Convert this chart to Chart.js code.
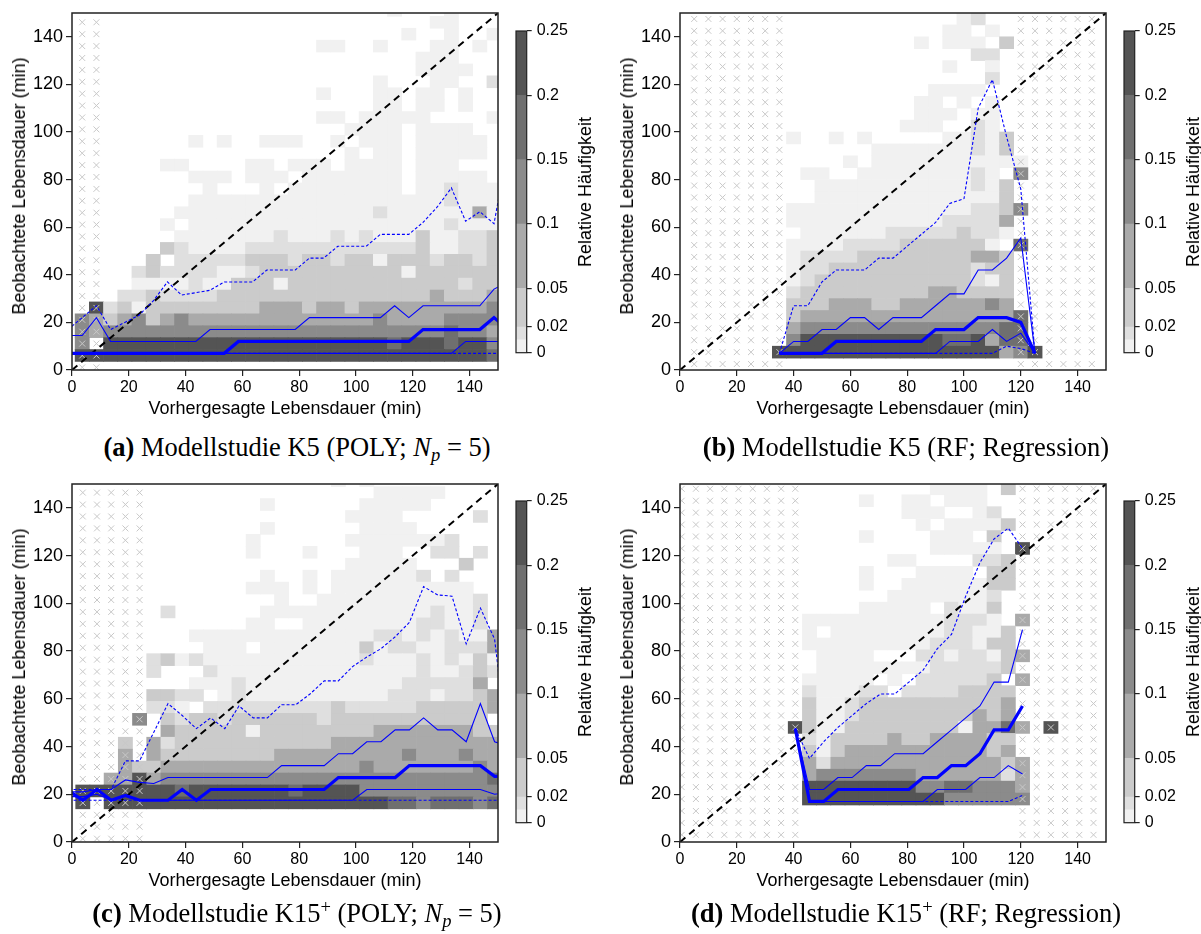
<!DOCTYPE html>
<html lang="de">
<head>
<meta charset="utf-8">
<title>Vorhergesagte vs. beobachtete Lebensdauer</title>
<script src="https://cdn.jsdelivr.net/npm/chart.js@4.4.1/dist/chart.umd.min.js"></script>
<style>
  html, body { margin: 0; padding: 0; background: #fff; }
  #page { position: relative; width: 1201px; height: 934px; overflow: hidden;
          font-family: 'Liberation Sans', Arial, Helvetica, sans-serif; color: #000; }
  #page canvas { position: absolute; }
  .vtitle { position: absolute; white-space: nowrap; font-size: 18px; line-height: 1;
            transform: translate(-50%, -50%) rotate(-90deg); }
  .caption { position: absolute; white-space: nowrap; transform: translateX(-50%);
             font-family: 'Liberation Serif', 'Times New Roman', serif; font-size: 26.5px; line-height: 30px; }
  .caption sub { font-size: 70%; line-height: 0; vertical-align: -0.28em; }
  .caption sup { font-size: 70%; line-height: 0; vertical-align: 0.5em; }
</style>
</head>
<body>
<div id="page"></div>
<script>
// ---------------------------------------------------------------------------
// Shared settings: 5-minute bins, frequency classes of the grey scale
// ---------------------------------------------------------------------------
const BIN = 5;
const FREQ_BREAKS = [0, 0.01, 0.02, 0.05, 0.1, 0.15, 0.2, 0.25];
const FREQ_GREYS  = ['#f1f1f1', '#dfdfdf', '#cbcbcb', '#aaaaaa', '#8b8b8b', '#6f6f6f', '#545454'];
// symbol in the grid strings -> relative frequency (class midpoint), '.' = no data
const LEVEL_FREQ = { '1': 0.005, '2': 0.015, '3': 0.035, '4': 0.075, '5': 0.125, '6': 0.175, '7': 0.225 };
const AXIS_TICKS = [0, 20, 40, 60, 80, 100, 120, 140];
const CBAR_TICKS = [0, 0.02, 0.05, 0.1, 0.15, 0.2, 0.25];
const DIAGONAL   = [0, 150];

// ---------------------------------------------------------------------------
// (a) K5, POLY, Np = 5
// ---------------------------------------------------------------------------
const colsA = [3.6, 8.6, 13.6, 18.6, 23.6, 28.6, 33.6, 38.6, 43.6, 48.6, 53.6, 58.6, 63.6, 68.6, 73.6,
               78.6, 83.6, 88.6, 93.6, 98.6, 103.6, 108.6, 113.6, 118.6, 123.6, 128.6, 133.6, 138.6, 143.6, 148.6];
const rowsA = [1.1, 6.1, 11.1, 16.1, 21.1, 26.1, 31.1, 36.1, 41.1, 46.1, 51.1, 56.1, 61.1, 66.1, 71.1, 76.1,
               81.1, 86.1, 91.1, 96.1, 101.1, 106.1, 111.1, 116.1, 121.1, 126.1, 131.1, 136.1, 141.1, 146.1, 151.1];
const crossA = [3.6, 8.6];
// rows from top (151.1) to bottom (1.1); five columns per block
const gridA = [
  "..... ..... ..... ..... ..1.. .1...",
  "..... ..... ..... ..... ..... 11...",
  "..... ..... ..... ..... ...1. .1..1",
  "..... ..... ..... ..11. .1... 11.1.",
  "..... ..... ..... ..... ....1 11...",
  "..... ..... ..... ..... ....1 111..",
  "..... ..... ..... ..... .1... 11..2",
  "..... ..... ..... ..1.. .11.1 1.1..",
  "..... ..... ..... ..... .11.1 1.1..",
  "..... ..... ..... ..11. 11111 ....1",
  "..... ..... ..... ....1 111.1 111..",
  "..... ...1. 1..11 1..1. 111.1 1111.",
  "..... ..... ..... ....1 .11.1 1111.",
  "..... .11.. ..11. 111.1 111.1 11...",
  "..... ...11 1.111 .1111 111.1 1111.",
  "..... ....1 ...1. 11111 111.1 12111",
  "..... ...11 11111 11111 11111 12111",
  "..... ..111 11111 11111 12111 11141",
  "..... .1.11 11111 11111 11111 12111",
  "..... ..111 11112 11121 21113 11223",
  "..... .3211 11222 22222 22223 11223",
  "..... 3.222 22333 23323 31333 23323",
  "....2 32222 11233 33333 33313 33333",
  "....1 11121 13331 33333 33333 33233",
  "...22 32222 33333 33333 33333 43334",
  ".7231 33333 33344 43443 44444 44445",
  "54345 34544 44444 44444 45444 45555",
  "54555 55555 55555 55555 55555 56554",
  "5.777 77777 77777 77777 77677 76775",
  "77777 77777 77777 77777 77777 77776",
  "..... ..... ..... ..... ..... ....."
];
const lineXA  = [-1.4, 3.6, 8.6, 13.6, 18.6, 23.6, 28.6, 33.6, 38.6, 43.6, 48.6, 53.6, 58.6, 63.6, 68.6, 73.6,
                 78.6, 83.6, 88.6, 93.6, 98.6, 103.6, 108.6, 113.6, 118.6, 123.6, 128.6, 133.6, 138.6, 143.6, 148.6, 153.6];
const medianA = [7, 7, 7, 7, 7, 7, 7, 7, 7, 7, 7, 7, 12, 12, 12, 12, 12, 12, 12, 12, 12, 12, 12, 12, 12, 17, 17, 17, 17, 17, 22, 17];
const q1A     = [7, 7, 7, 7, 7, 7, 7, 7, 7, 7, 7, 7, 7, 7, 7, 7, 7, 7, 7, 7, 7, 7, 7, 7, 7, 7, 7, 7, 12, 12, 12, 12];
const q3A     = [14.5, 14.5, 22, 12, 12, 12, 12, 12, 12, 12, 17, 17, 17, 17, 17, 17, 17, 22, 22, 22, 22, 22, 22, 27, 22, 27, 27, 27, 27, 27, 34, 37];
const p10A    = [7, 7, 7, 7, 7, 7, 7, 7, 7, 7, 7, 7, 7, 7, 7, 7, 7, 7, 7, 7, 7, 7, 7, 7, 7, 7, 7, 7, 7, 7, 7, 7];
const p90A    = [17, 22, 27, 17, 20, 23, 29, 37, 31.5, 32.5, 33.5, 37, 37, 37, 42, 42, 42, 47, 47, 52, 52, 52, 57, 57, 57, 62, 68.5, 76.5, 62.5, 66.5, 61.5, 94];

// ---------------------------------------------------------------------------
// (b) K5, RF, Regression
// ---------------------------------------------------------------------------
const colsB = [0, 5, 10, 15, 20, 25, 30, 35, 40, 45, 50, 55, 60, 65, 70, 75, 80, 85, 90, 95, 100, 105, 110, 115, 120, 125, 130, 135, 140, 145];
const rowsB = [2.5, 7.5, 12.5, 17.5, 22.5, 27.5, 32.5, 37.5, 42.5, 47.5, 52.5, 57.5, 62.5, 67.5, 72.5,
               77.5, 82.5, 87.5, 92.5, 97.5, 102.5, 107.5, 112.5, 117.5, 122.5, 127.5, 132.5, 137.5, 142.5, 147.5];
const crossB = [5, 10, 15, 20, 25, 30, 35, 120, 125, 130, 135, 140, 145];
const gridB = [
  "..... ..... ..... ..... 12... .....",
  "..... ..... ..... ....1 1.1.. .....",
  "..... ..... ..... ..1.1 11.3. .....",
  "..... ..... ..... ..... .22.. .....",
  "..... ..... ..... ....1 ..1.. .....",
  "..... ..... ..... ..... ..2.. .....",
  "..... ..... ..... ...11 11... .....",
  "..... ..... ..... ..11. 1.1.. .....",
  "..... ..... ..... ..111 .11.. .....",
  "..... ..... ..... .111. .21.. .....",
  "..... ...1. .1.1. ....1 1213. .....",
  "..... ..... ....1 11111 1213. .....",
  "..... ..... ..1.1 11111 11111 .....",
  "..... ....1 1..11 11111 121.5 .....",
  "..... ..... 11111 11111 1213. .....",
  "..... ..... 11111 11111 1113. .....",
  "..... ...11 11111 11111 12235 .....",
  "..... ...11 11111 11112 2224. .....",
  "..... ....1 11111 22222 3221. .....",
  "..... ...11 11222 23333 331.6 .....",
  "..... ...12 22233 33333 3443. .....",
  "..... ...12 23333 33333 3233. .....",
  "..... ...12 33333 33333 3213. .....",
  "..... ...23 33333 33344 3333. .....",
  "..... ...33 34443 34444 4454. .....",
  "..... ...34 44444 44444 44446 .....",
  "..... ...45 55555 55555 55566 .....",
  "..... ...57 77777 77776 67466 .....",
  "..... ..777 77777 77777 77745 7....",
  "..... ..... ..... ..... ..... ....."
];
const lineXB  = [35, 40, 45, 50, 55, 60, 65, 70, 75, 80, 85, 90, 95, 100, 105, 110, 115, 120, 125];
const medianB = [7, 7, 7, 7, 12, 12, 12, 12, 12, 12, 12, 17, 17, 17, 22, 22, 22, 20, 7];
const q1B     = [7, 7, 7, 7, 7, 7, 7, 7, 7, 7, 7, 7, 12, 12, 12, 17, 12, 15.5, 7];
const q3B     = [7, 12, 12, 17, 17, 22, 22, 17, 22, 22, 22, 27, 32, 32, 42, 42, 47, 55.5, 7];
const p10B    = [7, 7, 7, 7, 7, 7, 7, 7, 7, 7, 7, 7, 7, 7, 7, 7, 10, 9, 7];
const p90B    = [7, 27, 27, 37, 42, 42, 42, 47, 47, 52, 57, 62, 70, 72, 110, 122, 98, 76, 7];

// ---------------------------------------------------------------------------
// (c) K15+, POLY, Np = 5
// ---------------------------------------------------------------------------
const colsC = [3.8, 8.8, 13.8, 18.8, 23.8, 28.8, 33.8, 38.8, 43.8, 48.8, 53.8, 58.8, 63.8, 68.8, 73.8,
               78.8, 83.8, 88.8, 93.8, 98.8, 103.8, 108.8, 113.8, 118.8, 123.8, 128.8, 133.8, 138.8, 143.8, 148.8];
const rowsC = [1.4, 6.4, 11.4, 16.4, 21.4, 26.4, 31.4, 36.4, 41.4, 46.4, 51.4, 56.4, 61.4, 66.4, 71.4, 76.4,
               81.4, 86.4, 91.4, 96.4, 101.4, 106.4, 111.4, 116.4, 121.4, 126.4, 131.4, 136.4, 141.4, 146.4, 151.4];
const crossC = [3.8, 8.8, 13.8, 18.8, 23.8];
const gridC = [
  "..... ..... ..... ...1. 1.... .....",
  "..... ..... ..... ..... .1111 1....",
  "..... ..... ...1. ..... 11111 .....",
  "..... ..... ..... ....1 111.. ...2.",
  "..... ..... ...1. ..... 1111. .....",
  "..... ..... ..1.. ....1 11111 12...",
  "..... ..... ..1.. .1... 111.. 22.2.",
  "..... ..... ..... ....1 1111. ..3..",
  "..... ..... ...1. .1.11 11112 .2...",
  "..... ..... ..111 .1.11 11111 111..",
  "..... ..... ....1 ..111 11111 1112.",
  "..... .2... ...11 11111 11111 2112.",
  "..... ..... ..11. .1111 11112 2112.",
  "..... ...11 11111 11111 12212 12114",
  "..... ....1 11.11 11111 31221 12224",
  "..... 23121 11111 11111 21112 12131",
  "..... 2...2 11111 11111 11112 11232",
  "..... ...11 12111 11111 11122 2224.",
  "..... 3322. 12111 11111 11222 12234",
  "..... 221.2 22222 22232 22223 33334",
  "....5 .3233 23333 33233 33333 3333.",
  "..... .4333 33133 33333 34444 44433",
  "...3. 42333 33333 33344 44444 44444",
  "...4. 43333 33334 44444 44454 44544",
  "...43 34444 44444 44444 54444 44454",
  "..447 45555 55555 55555 55555 55556",
  "77777 77677 77777 67777 55555 55555",
  "7.777 77777 77777 77777 77665 66656",
  "..... ..... ..... ..... ..... .....",
  "..... ..... ..... ..... ..... .....",
  "..... ..... ..... ..... ..... ....."
];
const lineXC  = [-1.2, 3.8, 8.8, 13.8, 18.8, 23.8, 28.8, 33.8, 38.8, 43.8, 48.8, 53.8, 58.8, 63.8, 68.8, 73.8,
                 78.8, 83.8, 88.8, 93.8, 98.8, 103.8, 108.8, 113.8, 118.8, 123.8, 128.8, 133.8, 138.8, 143.8, 148.8, 153.8];
const medianC = [21.5, 17.5, 22, 17.5, 19.5, 17.5, 17.5, 17.5, 22, 17.5, 22, 22, 22, 22, 22, 22, 22, 22, 22, 27, 27, 27, 27, 27, 32, 32, 32, 32, 32, 32, 27.5, 27.5];
const q1C     = [19, 19, 20, 17.5, 19.5, 17.5, 17.5, 17.5, 17.5, 17.5, 17.5, 17.5, 17.5, 17.5, 17.5, 17.5, 17.5, 17.5, 17.5, 17.5, 17.5, 22, 22, 22, 22, 22, 22, 22, 22, 22, 20, 21];
const q3C     = [21, 21, 22, 22, 26, 25, 24.5, 27, 27, 27, 27, 27, 27, 27, 27, 32, 32, 32, 32, 37, 37, 42, 42, 47, 47, 52, 47, 47, 42, 58, 42, 40];
const p10C    = [17.5, 17.5, 17.5, 17.5, 17.5, 17.5, 17.5, 17.5, 17.5, 17.5, 17.5, 17.5, 17.5, 17.5, 17.5, 17.5,
                 17.5, 17.5, 17.5, 17.5, 17.5, 17.5, 17.5, 17.5, 17.5, 17.5, 17.5, 17.5, 17.5, 17.5, 17.5, 17.5];
const p90C    = [22, 22, 22, 22, 34, 34, 46, 58, 53, 47.5, 52, 47.5, 57, 52, 52, 57.5, 57.5, 62, 67.5, 67.5, 73.5, 77.5, 81, 86, 92, 107, 103.5, 103, 83, 98, 85, 35];

// ---------------------------------------------------------------------------
// (d) K15+, RF, Regression
// ---------------------------------------------------------------------------
const colsD = [0.6, 5.6, 10.6, 15.6, 20.6, 25.6, 30.6, 35.6, 40.6, 45.6, 50.6, 55.6, 60.6, 65.6, 70.6,
               75.6, 80.6, 85.6, 90.6, 95.6, 100.6, 105.6, 110.6, 115.6, 120.6, 125.6, 130.6, 135.6, 140.6, 145.6];
const rowsD = [3, 8, 13, 18, 23, 28, 33, 38, 43, 48, 53, 58, 63, 68, 73,
               78, 83, 88, 93, 98, 103, 108, 113, 118, 123, 128, 133, 138, 143, 148];
const crossD = [0.6, 5.6, 10.6, 15.6, 20.6, 25.6, 30.6, 35.6, 40.6, 120.6, 125.6, 130.6, 135.6, 140.6, 145.6];
const gridD = [
  "..... ..... ..... ...11 11.3. .....",
  "..... ..... ...1. .11.1 11... .....",
  "..... ..... ..... .111. .12.. .....",
  "..... ..... ..... ..1.1 1113. .....",
  "..... ..... ...1. ...11 1.3.. .....",
  "..... ..... ..... ...11 111.7 .....",
  "..... ..... ..... 11... .223. .....",
  "..... ..... ...1. ..111 1.33. .....",
  "..... ..... ...1. .1111 1133. .....",
  "..... ..... ..... 11111 112.. .....",
  "..... ..... ...11 111.2 113.. .....",
  "..... ....1 11111 11112 221.4 .....",
  "..... ....1 .1111 11112 2113. .....",
  "..... ....1 11111 11122 2133. .....",
  "..... ..... 1111. ..221 22134 .....",
  "..... ..... 11111 11122 2223. .....",
  "..... ....1 1111. 1.222 223.4 .....",
  "..... ....2 11122 .2222 3333. .....",
  "..... ....3 11233 33333 3334. .....",
  "..... ....3 11233 33333 3434. .....",
  "..... ...73 11333 33333 14464 .7...",
  "..... ....2 13333 43344 4433. .....",
  "..... ....3 13444 44444 4434. .....",
  "..... ....4 24444 44444 44434 .....",
  "..... ....4 55555 55444 44424 .....",
  "..... ....7 77777 77556 65554 .....",
  "..... ....7 77777 77775 55555 .....",
  "..... ..... ..... ..... ..... .....",
  "..... ..... ..... ..... ..... .....",
  "..... ..... ..... ..... ..... ....."
];
const lineXD  = [40.6, 45.6, 50.6, 55.6, 60.6, 65.6, 70.6, 75.6, 80.6, 85.6, 90.6, 95.6, 100.6, 105.6, 110.6, 115.6, 120.6];
const medianD = [47.5, 17, 17, 22, 22, 22, 22, 22, 22, 27, 27, 32, 32, 37, 47, 47, 57];
const q1D     = [47.5, 17, 17, 17, 17, 17, 17, 17, 17, 17, 22, 22, 22, 27, 27, 32, 28.5];
const q3D     = [47.5, 22, 22, 27, 27, 32, 32, 37, 37, 37, 42, 47, 52, 57, 67, 67, 89];
const p10D    = [47.5, 17, 17, 17, 17, 17, 17, 17, 17, 17, 17, 17, 17, 17, 17, 17, 19.5];
const p90D    = [47.5, 35, 42, 48, 53, 58, 62, 62, 67, 72, 81, 87, 103, 117, 127, 131.5, 123];

// ---------------------------------------------------------------------------
// Page layout (plot rectangles in page pixels) and labels
// ---------------------------------------------------------------------------
const PANELS = [
  { grid: gridA, cols: colsA, rows: rowsA, crossCols: crossA, lineX: lineXA,
    median: medianA, q1: q1A, q3: q3A, p10: p10A, p90: p90A,
    plot: { left: 71.7, top: 13.3, right: 497.7, bottom: 370.3 },
    cbar: { left: 516, top: 31, right: 526.7, bottom: 352.7 },
    caption: { x: 297, top: 432, html: '<b>(a)</b> Modellstudie K5 (POLY; <i>N<sub>p</sub></i> = 5)' } },
  { grid: gridB, cols: colsB, rows: rowsB, crossCols: crossB, lineX: lineXB,
    median: medianB, q1: q1B, q3: q3B, p10: p10B, p90: p90B,
    plot: { left: 679.7, top: 13.3, right: 1105.7, bottom: 370.3 },
    cbar: { left: 1124, top: 31, right: 1134.7, bottom: 352.7 },
    caption: { x: 906, top: 432, html: '<b>(b)</b> Modellstudie K5 (RF; Regression)' } },
  { grid: gridC, cols: colsC, rows: rowsC, crossCols: crossC, lineX: lineXC,
    median: medianC, q1: q1C, q3: q3C, p10: p10C, p90: p90C,
    plot: { left: 71.7, top: 483.7, right: 497.7, bottom: 841.7 },
    cbar: { left: 516, top: 501.4, right: 526.7, bottom: 823.1 },
    caption: { x: 297, top: 898, html: '<b>(c)</b> Modellstudie K15<sup>+</sup> (POLY; <i>N<sub>p</sub></i> = 5)' } },
  { grid: gridD, cols: colsD, rows: rowsD, crossCols: crossD, lineX: lineXD,
    median: medianD, q1: q1D, q3: q3D, p10: p10D, p90: p90D,
    plot: { left: 679.7, top: 483.7, right: 1105.7, bottom: 841.7 },
    cbar: { left: 1124, top: 501.4, right: 1134.7, bottom: 823.1 },
    caption: { x: 906, top: 898, html: '<b>(d)</b> Modellstudie K15<sup>+</sup> (RF; Regression)' } }
];

const X_TITLE = 'Vorhergesagte Lebensdauer (min)';
const Y_TITLE = 'Beobachtete Lebensdauer (min)';
const CB_TITLE = 'Relative Häufigkeit';
const BLUE = '#0000ff';
const AXIS_COLOR = '#222';
const CROSS_COLOR = '#c8c8c8';

Chart.defaults.font.family = "'Liberation Sans', Arial, Helvetica, sans-serif";
Chart.defaults.color = '#000';

const page = document.getElementById('page');

function addCanvas(left, top, w, h) {
  const c = document.createElement('canvas');
  c.width = w; c.height = h;
  c.style.left = left + 'px'; c.style.top = top + 'px';
  c.style.width = w + 'px'; c.style.height = h + 'px';
  page.appendChild(c);
  return c;
}

function addText(cls, x, y, html) {
  const d = document.createElement('div');
  d.className = cls;
  d.style.left = x + 'px'; d.style.top = y + 'px';
  d.innerHTML = html;
  page.appendChild(d);
  return d;
}

// plot frame drawn over the data
const framePlugin = {
  id: 'frame',
  afterDatasetsDraw(chart, args, opts) {
    const { ctx, chartArea: a } = chart;
    ctx.save();
    ctx.strokeStyle = opts.color || AXIS_COLOR;
    ctx.lineWidth = opts.width || 1.5;
    ctx.strokeRect(a.left, a.top, a.right - a.left, a.bottom - a.top);
    ctx.restore();
  }
};

function greyFor(v) {
  for (let k = 0; k < FREQ_GREYS.length; k++) {
    if (v >= FREQ_BREAKS[k] && v < FREQ_BREAKS[k + 1]) return FREQ_GREYS[k];
  }
  return FREQ_GREYS[FREQ_GREYS.length - 1];
}

function gridCells(grid, cols, rows) {
  const cells = [];
  const n = grid.length;
  grid.forEach((line, r) => {
    const yc = rows[n - 1 - r];
    const chars = line.replace(/ /g, '');
    for (let j = 0; j < chars.length; j++) {
      const f = LEVEL_FREQ[chars[j]];
      if (f === undefined) continue;
      cells.push({ x: cols[j], y: [yc - BIN / 2, yc + BIN / 2], v: f });
    }
  });
  return cells;
}

const Y_AXIS_W = 72, X_AXIS_H = 62, PAD = 14;

function heatChart(P) {
  const p = P.plot;
  const w = Math.round(p.right - p.left + Y_AXIS_W + PAD);
  const h = Math.round(p.bottom - p.top + PAD + X_AXIS_H);
  const left = p.left - Y_AXIS_W, top = p.top - PAD;
  const canvas = addCanvas(left, top, w, h);
  const rightPad = w - Y_AXIS_W - (p.right - p.left);
  const xAxisH = h - PAD - (p.bottom - p.top);

  const cells = gridCells(P.grid, P.cols, P.rows);
  const crosses = [];
  P.crossCols.forEach(x => P.rows.forEach(y => { if (y < 150) crosses.push({ x, y }); }));
  const pts = ys => ys.map((y, i) => ({ x: P.lineX[i], y }));
  const quantile = (ys, width, dash, order) => ({
    type: 'line', data: pts(ys), borderColor: BLUE, borderWidth: width, borderDash: dash,
    pointRadius: 0, tension: 0, fill: false, order, clip: 0, borderJoinStyle: 'miter'
  });

  return new Chart(canvas, {
    type: 'bar',
    data: {
      datasets: [
        quantile(P.median, 3.2, [], 1),
        quantile(P.q1, 1.1, [], 2),
        quantile(P.q3, 1.1, [], 3),
        quantile(P.p10, 1.1, [3, 2], 4),
        quantile(P.p90, 1.1, [3, 2], 5),
        { type: 'line', data: DIAGONAL.map(v => ({ x: v, y: v })), borderColor: '#000', borderWidth: 2,
          borderDash: [7, 5], pointRadius: 0, order: 6, clip: 0 },
        { type: 'scatter', data: crosses, pointStyle: 'crossRot', pointRadius: 4.2,
          pointBorderColor: CROSS_COLOR, pointBackgroundColor: 'rgba(0,0,0,0)', pointBorderWidth: 1,
          order: 7, clip: 0 },
        { type: 'bar', data: cells, backgroundColor: c => greyFor(c.raw ? c.raw.v : 0),
          borderWidth: 0, barPercentage: 1, categoryPercentage: 1, order: 8, clip: 0 }
      ]
    },
    options: {
      responsive: false, animation: false, events: [],
      layout: { padding: { left: 0, top: PAD, right: rightPad, bottom: 0 } },
      plugins: { legend: { display: false }, tooltip: { enabled: false }, frame: { width: 1.5 } },
      scales: {
        x: {
          type: 'linear', min: 0, max: 150, offset: false,
          afterBuildTicks: s => { s.ticks = AXIS_TICKS.map(v => ({ value: v })); },
          afterFit: s => { s.height = xAxisH; },
          grid: { offset: false, drawOnChartArea: false, drawTicks: true, tickLength: 6, color: AXIS_COLOR, lineWidth: 1.2 },
          border: { display: false },
          ticks: { font: { size: 16 }, color: '#000', padding: 2, maxRotation: 0, autoSkip: false },
          title: { display: true, text: X_TITLE, font: { size: 18 }, color: '#000', padding: { top: 0, bottom: 12 } }
        },
        y: {
          type: 'linear', min: 0, max: 150,
          afterBuildTicks: s => { s.ticks = AXIS_TICKS.map(v => ({ value: v })); },
          afterFit: s => { s.width = Y_AXIS_W; },
          grid: { drawOnChartArea: false, drawTicks: true, tickLength: 6, color: AXIS_COLOR, lineWidth: 1.2 },
          border: { display: false },
          ticks: { font: { size: 18 }, color: '#000', padding: 3, autoSkip: false },
          title: { display: false }
        }
      }
    },
    plugins: [framePlugin]
  });
}

function colourBar(P) {
  const b = P.cbar;
  const left = b.left - 16, top = b.top - 31;
  const w = 100, h = 382;
  const canvas = addCanvas(left, top, w, h);
  const axisW = w - 16 - (b.right - b.left);
  return new Chart(canvas, {
    type: 'bar',
    data: {
      labels: [''],
      datasets: FREQ_GREYS.map((g, k) => ({
        data: [[FREQ_BREAKS[k], FREQ_BREAKS[k + 1]]], backgroundColor: g, borderWidth: 0,
        grouped: false, barPercentage: 1, categoryPercentage: 1
      }))
    },
    options: {
      responsive: false, animation: false, events: [],
      layout: { padding: { left: 16, top: 31, right: 0, bottom: h - 31 - (b.bottom - b.top) } },
      plugins: { legend: { display: false }, tooltip: { enabled: false }, frame: { width: 1.2 } },
      scales: {
        x: { display: false },
        y: {
          position: 'right', min: 0, max: 0.25,
          afterBuildTicks: s => { s.ticks = CBAR_TICKS.map(v => ({ value: v })); },
          afterFit: s => { s.width = axisW; },
          grid: { drawOnChartArea: false, drawTicks: true, tickLength: 5, color: AXIS_COLOR, lineWidth: 1.2 },
          border: { display: false },
          ticks: { font: { size: 16 }, color: '#000', padding: 5, callback: v => String(v) }
        }
      }
    },
    plugins: [framePlugin]
  });
}

PANELS.forEach(P => {
  heatChart(P);
  colourBar(P);
  const p = P.plot;
  addText('vtitle', p.left - 53, (p.top + p.bottom) / 2 - 6, Y_TITLE);
  addText('vtitle', P.cbar.right + 58, (P.cbar.top + P.cbar.bottom) / 2, CB_TITLE);
  addText('caption', P.caption.x, P.caption.top, P.caption.html);
});
</script>
</body>
</html>
